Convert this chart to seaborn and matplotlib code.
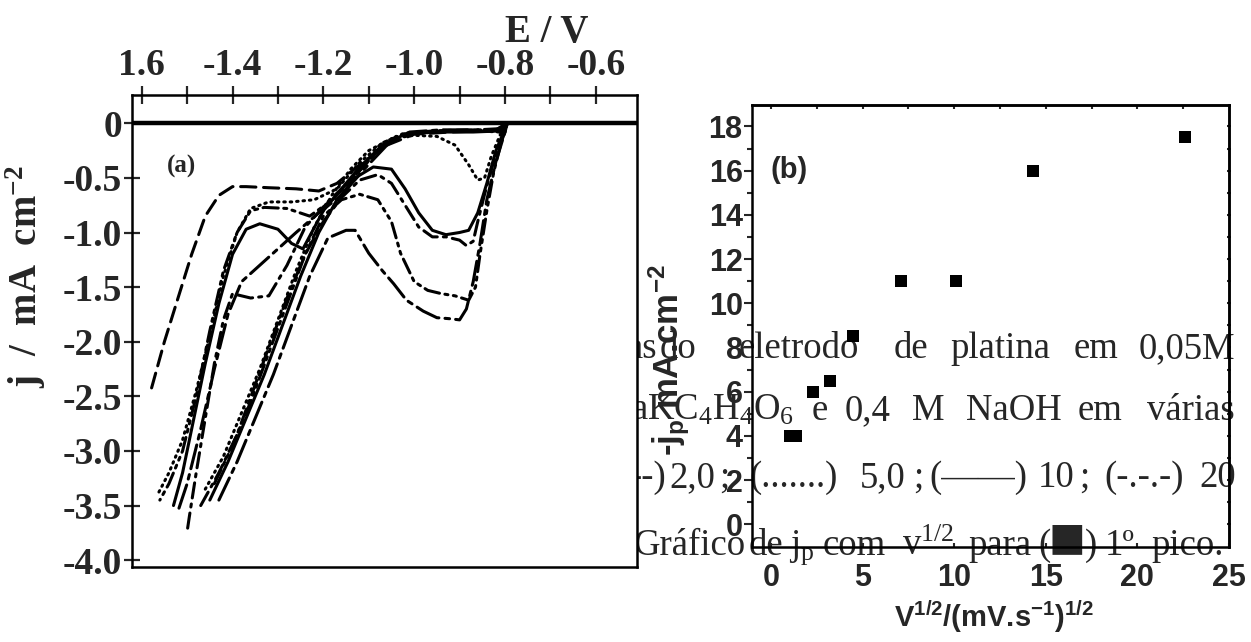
#--Import libraries--#
import pandas as pd
import seaborn as sns
import matplotlib.pyplot as plt

#--Panel (a): voltammograms, E / V and j / mA cm-2--#
rates = ['2,0', '5,0', '10', '20', '50', '100']

fwd_2 = [(-0.795, 0.0), (-0.80, -0.08), (-0.85, -0.07), (-0.92, -0.08), (-1.00, -0.10),
         (-1.06, -0.20), (-1.12, -0.38), (-1.17, -0.55), (-1.21, -0.62), (-1.26, -0.60),
         (-1.32, -0.59), (-1.37, -0.58), (-1.40, -0.58), (-1.43, -0.66), (-1.46, -0.85),
         (-1.49, -1.20), (-1.52, -1.60), (-1.55, -2.00), (-1.58, -2.45)]
rev_2 = []

fwd_5 = [(-0.795, 0.0), (-0.81, -0.08), (-0.86, -0.07), (-0.94, -0.07), (-1.02, -0.09),
         (-1.07, -0.18), (-1.12, -0.36), (-1.17, -0.60), (-1.22, -0.70), (-1.27, -0.72),
         (-1.32, -0.72), (-1.36, -0.78), (-1.39, -1.00), (-1.42, -1.40), (-1.45, -1.95),
         (-1.48, -2.45), (-1.51, -2.90), (-1.54, -3.20), (-1.565, -3.40)]
rev_5 = [(-1.46, -3.35), (-1.42, -3.05), (-1.38, -2.65), (-1.34, -2.25), (-1.30, -1.80),
         (-1.26, -1.35), (-1.22, -0.95), (-1.18, -0.65), (-1.14, -0.42), (-1.10, -0.25),
         (-1.05, -0.14), (-1.00, -0.11), (-0.95, -0.12), (-0.91, -0.20), (-0.88, -0.38),
         (-0.86, -0.52), (-0.845, -0.50), (-0.83, -0.30), (-0.81, -0.10), (-0.795, 0.0)]

fwd_10 = [(-0.795, 0.0), (-0.81, -0.07), (-0.87, -0.08), (-0.95, -0.08), (-1.02, -0.10),
          (-1.07, -0.20), (-1.12, -0.40), (-1.17, -0.65), (-1.20, -0.80), (-1.245, -1.15),
          (-1.27, -1.10), (-1.30, -0.97), (-1.34, -0.92), (-1.37, -0.97), (-1.40, -1.20),
          (-1.43, -1.65), (-1.46, -2.20), (-1.49, -2.80), (-1.51, -3.20), (-1.53, -3.50)]
rev_10 = [(-1.45, -3.45), (-1.41, -3.10), (-1.37, -2.70), (-1.33, -2.30), (-1.29, -1.85),
          (-1.25, -1.40), (-1.21, -1.00), (-1.17, -0.70), (-1.13, -0.50), (-1.09, -0.40),
          (-1.05, -0.42), (-1.02, -0.60), (-0.99, -0.82), (-0.96, -0.98), (-0.93, -1.02),
          (-0.90, -1.00), (-0.88, -0.98), (-0.86, -0.82), (-0.84, -0.55), (-0.82, -0.25),
          (-0.795, 0.0)]

fwd_20 = [(-0.795, 0.0), (-0.82, -0.06), (-0.90, -0.07), (-0.98, -0.08), (-1.04, -0.12),
          (-1.09, -0.30), (-1.14, -0.52), (-1.19, -0.72), (-1.24, -0.95), (-1.28, -1.30),
          (-1.32, -1.58), (-1.36, -1.60), (-1.40, -1.56), (-1.42, -1.80), (-1.44, -2.20),
          (-1.46, -2.70), (-1.48, -3.20), (-1.495, -3.60), (-1.50, -3.74)]
rev_20 = [(-1.47, -3.50), (-1.43, -3.20), (-1.39, -2.85), (-1.355, -2.45), (-1.32, -2.05),
          (-1.28, -1.60), (-1.24, -1.20), (-1.20, -0.90), (-1.16, -0.68), (-1.12, -0.52),
          (-1.08, -0.47), (-1.05, -0.55), (-1.02, -0.75), (-0.99, -0.95), (-0.96, -1.04),
          (-0.93, -1.04), (-0.90, -1.07), (-0.885, -1.12), (-0.87, -1.08), (-0.86, -0.90),
          (-0.845, -0.65), (-0.825, -0.35), (-0.80, -0.08), (-0.795, 0.0)]

fwd_50 = [(-0.795, 0.0), (-0.81, -0.06), (-0.88, -0.06), (-0.96, -0.07), (-1.03, -0.10),
          (-1.08, -0.25), (-1.13, -0.48), (-1.18, -0.70), (-1.23, -0.85), (-1.28, -0.78),
          (-1.33, -0.77), (-1.36, -0.80), (-1.39, -1.00), (-1.42, -1.35), (-1.45, -1.90),
          (-1.48, -2.50), (-1.51, -3.00), (-1.54, -3.30), (-1.56, -3.45)]
rev_50 = [(-1.44, -3.30), (-1.40, -2.95), (-1.36, -2.55), (-1.32, -2.10), (-1.28, -1.65),
          (-1.24, -1.20), (-1.20, -0.85), (-1.16, -0.70), (-1.12, -0.65), (-1.08, -0.70),
          (-1.05, -0.90), (-1.03, -1.19), (-1.00, -1.45), (-0.97, -1.53), (-0.94, -1.56),
          (-0.91, -1.58), (-0.88, -1.62), (-0.865, -1.50), (-0.855, -1.20), (-0.84, -0.80),
          (-0.825, -0.45), (-0.805, -0.12), (-0.795, 0.0)]

fwd_100 = [(-0.795, 0.0), (-0.815, -0.05), (-0.86, -0.06), (-0.94, -0.06), (-1.01, -0.08),
           (-1.06, -0.20), (-1.11, -0.42), (-1.16, -0.66), (-1.21, -0.82), (-1.26, -1.00),
           (-1.30, -1.15), (-1.34, -1.30), (-1.38, -1.45), (-1.41, -1.75), (-1.44, -2.25),
           (-1.47, -2.80), (-1.50, -3.30), (-1.52, -3.55)]
rev_100 = [(-1.43, -3.45), (-1.39, -3.10), (-1.35, -2.70), (-1.31, -2.30), (-1.27, -1.85),
           (-1.23, -1.40), (-1.19, -1.05), (-1.15, -0.98), (-1.13, -0.98), (-1.10, -1.19),
           (-1.07, -1.35), (-1.045, -1.47), (-1.017, -1.62), (-0.98, -1.72), (-0.95, -1.78),
           (-0.92, -1.79), (-0.90, -1.80), (-0.885, -1.70), (-0.87, -1.45), (-0.855, -1.10),
           (-0.84, -0.70), (-0.82, -0.35), (-0.80, -0.08), (-0.795, 0.0)]

branches = {'2,0': (fwd_2, rev_2), '5,0': (fwd_5, rev_5), '10': (fwd_10, rev_10),
            '20': (fwd_20, rev_20), '50': (fwd_50, rev_50), '100': (fwd_100, rev_100)}

e_ticks = [-1.6, -1.4, -1.2, -1.0, -0.8, -0.6]
e_ticklabels = ['1.6', '-1.4', '-1.2', '-1.0', '-0.8', '-0.6']
e_minor = [-1.5, -1.3, -1.1, -0.9, -0.7]
j_ticks = [0, -0.5, -1.0, -1.5, -2.0, -2.5, -3.0, -3.5, -4.0]
j_ticklabels = ['0', '-0.5', '-1.0', '-1.5', '-2.0', '-2.5', '-3.0', '-3.5', '-4.0']

#--Panel (b): peak current vs sqrt(scan rate)--#
v_sqrt = [1.05, 1.35, 2.3, 3.2, 4.5, 7.1, 10.1, 14.3, 22.6]
jp = [4.0, 4.0, 6.0, 6.5, 8.5, 11.0, 11.0, 16.0, 17.5]
b_xticks = [0, 5, 10, 15, 20, 25]
b_yticks = [0, 2, 4, 6, 8, 10, 12, 14, 16, 18]
b_yminor = [1, 3, 5, 7, 9, 11, 13, 15, 17]

#--Caption lines partly hidden behind panel (a): (word, x centre px)--#
cap_line1 = [('as', 642), ('do', 678), ('eletrodo', 799), ('de', 911), ('platina', 1000),
             ('em', 1096), ('0,05M', 1187)]
cap_line2 = [('e', 820), ('0,4', 868), ('M', 928), ('NaOH', 1014), ('em', 1100), ('várias', 1191)]
cap_line3 = [('--)', 648), ('2,0', 692), (';', 724), ('(.......)', 794), ('5,0', 883),
             (';', 918), ('(——)', 978), ('10', 1056), (';', 1084), ('(-.-.-)', 1144), ('20', 1218)]
cap_line4 = [('Gráfico', 690), ('de', 766), (r'j$\mathregular{_p}$', 802), ('com', 854),
             (r'v$\mathregular{^{1/2}}$', 928), ('para', 1000), ('(', 1044), (')', 1091),
             ('1º', 1120), ('pico.', 1188)]

#--Build long table for seaborn--#
rows = []
for rate in rates:
    for name, pts in zip(['fwd', 'rev'], branches[rate]):
        for e, j in pts:
            rows.append({'E': e, 'j': j, 'rate': rate, 'branch': name})
df_cv = pd.DataFrame(rows)
df_b = pd.DataFrame({'v': v_sqrt, 'jp': jp})

#--Style--#
sns.set_theme(style="ticks")
plt.rcParams['font.family'] = ['Liberation Serif', 'DejaVu Sans']
plt.rcParams['axes.linewidth'] = 1.8
plt.rcParams['axes.edgecolor'] = 'black'

W, H = 1251, 642
fig = plt.figure(figsize=(W / 100, H / 100), dpi=100)
fig.patch.set_facecolor('white')

ax_a = fig.add_axes([131.7 / W, 1 - 566.7 / H, 505 / W, 471.7 / H])
ax_b = fig.add_axes([751.7 / W, 1 - 546.7 / H, 477.6 / W, 441.7 / H])
ax_a.set_zorder(2)
ax_a.set_facecolor('white')
ax_b.set_zorder(3)
ax_b.patch.set_visible(False)

#--Panel (a)--#
dash_map = {'2,0': (5, 2.5), '5,0': (0.5, 1.6), '10': '', '20': (5, 2, 1, 2),
            '50': (5, 1.8, 1, 1.8, 1, 1.8), '100': (8, 2, 1.5, 2)}
sns.lineplot(data=df_cv, x='E', y='j', style='rate', units='branch', estimator=None,
             sort=False, dashes=dash_map, color='black', lw=2.2, legend=False,
             dash_capstyle='round', ax=ax_a)
ax_a.axhline(0, color='black', lw=3.2, zorder=3)
ax_a.set_xlim(-1.622, -0.510)
ax_a.set_ylim(-4.06, 0.259)

ax_a.xaxis.tick_top()
ax_a.set_xticks(e_ticks, labels=e_ticklabels, fontsize=27, fontweight='bold')
ax_a.set_xticks(e_minor, minor=True)
ax_a.tick_params(axis='x', which='both', direction='inout', length=13, width=1.6,
                 pad=2, top=True, bottom=False, labeltop=True, labelbottom=False)
ax_a.set_yticks(j_ticks, labels=j_ticklabels, fontsize=27, fontweight='bold')
ax_a.tick_params(axis='y', which='both', direction='inout', length=12, width=1.6,
                 pad=1, left=True, right=False)

ax_a.xaxis.set_label_position('top')
ax_a.set_xlabel('E / V', fontsize=28, fontweight='bold')
ax_a.xaxis.set_label_coords(0.822, 1.1335)
ax_a.xaxis.label.set_va('center')
ax_a.set_ylabel(r'j  /  mA  cm$\mathregular{^{-2}}$', fontsize=28, fontweight='bold')
ax_a.yaxis.set_label_coords(-0.209, 0.614)
ax_a.yaxis.label.set_va('center')
ax_a.text(0.098, 0.848, '(a)', transform=ax_a.transAxes, fontsize=18,
          fontweight='bold', ha='center', va='center')

#--Panel (b)--#
sns.scatterplot(data=df_b, x='v', y='jp', marker='s', s=72, color='black',
                linewidth=0, ax=ax_b)
ax_b.set_xlim(-1.053, 25.02)
ax_b.set_ylim(-1.014, 18.97)
sans = dict(fontsize=22, fontweight='bold', fontfamily='Liberation Sans')
ax_b.set_xticks(b_xticks, labels=[str(t) for t in b_xticks], **sans)
ax_b.set_yticks(b_yticks, labels=[str(t) for t in b_yticks], **sans)
ax_b.set_yticks(b_yminor, minor=True)
ax_b.tick_params(axis='y', which='major', direction='out', length=6, width=1.5, pad=0.5)
ax_b.tick_params(axis='y', which='minor', direction='out', length=3.5, width=1.5)
ax_b.tick_params(axis='x', which='major', direction='in', length=3, width=1.5, pad=12)
for side in ['top', 'right', 'bottom', 'left']:
    ax_b.spines[side].set_linewidth(1.8)

sec_r = ax_b.secondary_yaxis('right')
sec_r.set_yticks(b_yticks + b_yminor)
sec_r.tick_params(direction='inout', length=3, width=1.5, labelright=False)
sec_t = ax_b.secondary_xaxis('top')
sec_t.set_xticks([0, 2.5, 5, 7.5, 10, 12.5, 15, 17.5, 20, 22.5])
sec_t.tick_params(direction='in', length=3, width=1.5, labeltop=False)

ax_b.set_xlabel(r'V$\mathregular{^{1/2}}$/(mV.s$\mathregular{^{-1}}$)$\mathregular{^{1/2}}$',
                fontsize=21, fontweight='bold', fontfamily='Liberation Sans')
ax_b.xaxis.set_label_coords(0.507, -0.159)
ax_b.xaxis.label.set_va('center')
ax_b.set_ylabel(r'-j$\mathregular{_p}$ mA.cm$\mathregular{^{-2}}$',
                fontsize=25, fontweight='bold', fontfamily='Liberation Sans')
ax_b.yaxis.set_label_coords(-0.172, 0.4227)
ax_b.yaxis.label.set_va('center')
ax_b.text(0.078, 0.853, '(b)', transform=ax_b.transAxes, fontsize=21, fontweight='bold',
          fontfamily='Liberation Sans', ha='center', va='center')

#--Caption text (drawn under panel (a), over panel (b))--#
cap = dict(fontsize=26.5, fontfamily='Liberation Serif', va='baseline', zorder=1)
for line, ypx in [(cap_line1, 358), (cap_line2, 420), (cap_line3, 487), (cap_line4, 555)]:
    for word, xpx in line:
        fig.text(xpx / W, 1 - ypx / H, word, ha='center', **cap)
fig.text(631 / W, 1 - 420 / H,
         r'aKC$\mathregular{_4}$H$\mathregular{_4}$O$\mathregular{_6}$', ha='left', **cap)
fig.text(1067 / W, 1 - 538 / H, '■', ha='center', va='center', fontsize=28,
         fontfamily='DejaVu Sans', zorder=1)

fig.savefig('out.png', dpi=100)
